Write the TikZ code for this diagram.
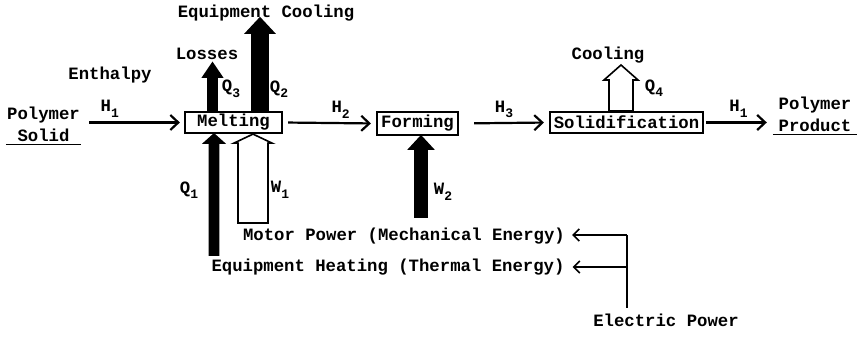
\documentclass[tikz,border=0pt]{standalone}
\usepackage{fontspec}
\setmonofont{Liberation Mono}
\usepackage{tikz}
\usetikzlibrary{arrows.meta, positioning, calc}

%% small lowered index, typewriter style
\newcommand{\lowsub}[1]{\raisebox{-0.6ex}{\fontsize{13}{13}\selectfont #1}}
%% upward block arrow: [fill]{tail}{tip}{half body}{half head}{head length}
\newcommand{\heatarrow}[6][black]{%
  \draw[heatblock, fill=#1] let \p1=(#2), \p2=(#3) in
    (\x1-#4,\y1) -- (\x1-#4,\y2-#6) -- (\x1-#5,\y2-#6) -- (\x1,\y2)
    -- (\x1+#5,\y2-#6) -- (\x1+#4,\y2-#6) -- (\x1+#4,\y1) -- cycle;}

\begin{document}
\begin{tikzpicture}[
    x=1pt, y=1pt,
    txt/.style={font=\ttfamily\bfseries\fontsize{17.3}{22}\selectfont,
                inner sep=1pt, align=center},
    stepbox/.style={txt, rectangle, draw, line width=2.2pt,
                    minimum height=21pt, inner sep=1pt},
    flow/.style={-{Straight Barb[length=8pt, width=15pt]}, line width=2.2pt},
    power/.style={-{Straight Barb[length=6pt, width=12pt]}, line width=1.6pt},
    uline/.style={line width=1.6pt},
    heatblock/.style={line width=1.6pt, line join=miter}
]
\useasboundingbox (0,0) rectangle (859,339);

%% Process boxes
\node[stepbox, minimum width=97pt]                     (melt)  at (233.5,216.5) {Melting};
\node[stepbox, minimum width=81pt, minimum height=23pt] (form)  at (417.5,215.5) {Forming};
\node[stepbox, minimum width=153pt]                    (solid) at (626.5,216.5) {Solidification};

%% Feed and product
\node[txt, minimum width=73pt] (psolid) at (43.5,215) {Polymer\\Solid};
\node[txt, minimum width=84pt] (pprod)  at (815,225)  {Polymer\\Product};
\draw[uline] ([yshift=-2pt]psolid.south west) -- ([yshift=-2pt]psolid.south east);
\draw[uline] ([yshift=-2pt]pprod.south west) -- ([yshift=-2pt]pprod.south east);

%% Enthalpy streams
\node[txt] (enth) at (110,264) {Enthalpy};
\draw[flow, shorten <=8pt, shorten >=4pt] (psolid.east |- melt.west) -- (melt.west)
    node[txt, pos=0.28, above=3pt] (h1in) {H\lowsub{1}};
\draw[flow, shorten <=5pt, shorten >=5pt] (melt.east) -- (form.west)
    node[txt, pos=0.62, above=3pt] (h2) {H\lowsub{2}};
\draw[flow, shorten <=15pt, shorten >=5pt] (form.east) -- (solid.west)
    node[txt, midway, above=3pt] (h3) {H\lowsub{3}};
\draw[flow, shorten <=2pt, shorten >=6pt] (solid.east) -- (solid.east -| pprod.west)
    node[txt, midway, above=3pt] (h1out) {H\lowsub{1}};

%% Heat and work arrows
\coordinate (q3head) at (212.5,276);
\coordinate (q2head) at (260,321);
\coordinate (q4head) at (621,274);
\coordinate (q1tail) at (214,84);
\coordinate (w1tail) at (253,116);
\coordinate (w2tail) at (421,122);

\heatarrow{melt.north -| q3head}{q3head}{4.5pt}{9.5pt}{14pt}
\heatarrow{melt.north -| q2head}{q2head}{8pt}{14pt}{15pt}
\heatarrow[white]{solid.north -| q4head}{q4head}{12pt}{17pt}{15pt}
\heatarrow{q1tail}{melt.south -| q1tail}{4.5pt}{10pt}{9pt}
\heatarrow[white]{w1tail}{melt.south -| w1tail}{15pt}{19pt}{9pt}
\heatarrow{w2tail}{form.south -| w2tail}{6pt}{12pt}{13pt}

\node[txt] (losses) at (207,285) {Losses};
\node[txt] (eqcool) at (266,326) {Equipment Cooling};
\node[txt] (cool)   at (608,284) {Cooling};
\node[txt] (q3lab)  at (231,250) {Q\lowsub{3}};
\node[txt] (q2lab)  at (279,250) {Q\lowsub{2}};
\node[txt] (q4lab)  at (654,251) {Q\lowsub{4}};
\node[txt] (q1lab)  at (189,149) {Q\lowsub{1}};
\node[txt] (w1lab)  at (280,149) {W\lowsub{1}};
\node[txt] (w2lab)  at (443,147) {W\lowsub{2}};

%% Energy supply
\node[txt] (motor) at (404,103) {Motor Power (Mechanical Energy)};
\node[txt] (heat)  at (388,72)  {Equipment Heating (Thermal Energy)};
\node[txt] (elec)  at (666,19)  {Electric Power};
\coordinate (ejoin) at (627,104);
\coordinate (ebot)  at (627,31);
\draw[line width=1.6pt] (ebot) -- (ejoin);
\draw[power, shorten >=6pt] (ejoin) -- (ejoin -| motor.east);
\draw[power, shorten >=7pt] (ebot |- heat.east) -- (heat.east);

\end{tikzpicture}
\end{document}
